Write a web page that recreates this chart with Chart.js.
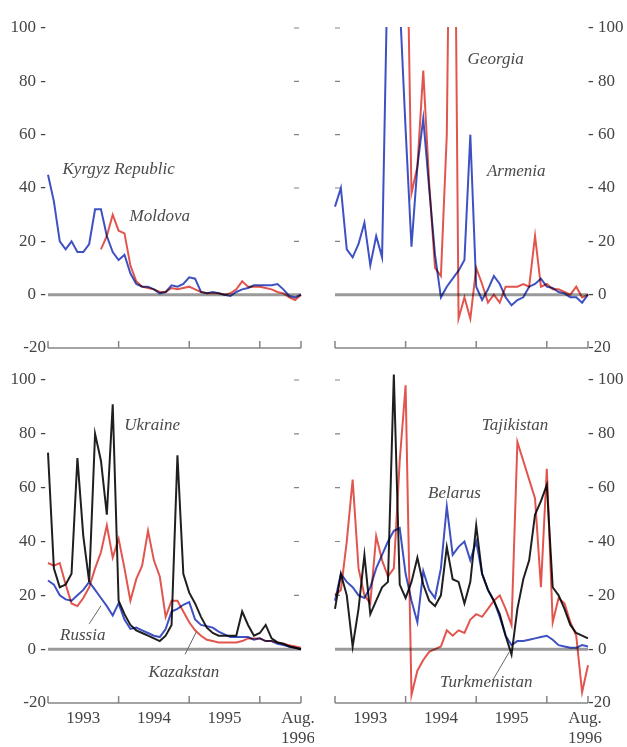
<!DOCTYPE html>
<html lang="en">
<head>
<meta charset="utf-8">
<title>Monthly inflation, 1993 - August 1996</title>
<script src="https://cdn.jsdelivr.net/npm/chart.js@4.4.1/dist/chart.umd.min.js"></script>
<style>
  html, body { margin: 0; padding: 0; background: #fff; }
  body { position: relative; width: 627px; height: 747px; overflow: hidden; }
  canvas { position: absolute; }
  #topLeft { left: 0; top: 0; }
  #topRight { left: 314px; top: 0; }
  #bottomLeft { left: 0; top: 365px; }
  #bottomRight { left: 314px; top: 365px; }
</style>
</head>
<body>
<canvas id="topLeft" width="314" height="365"></canvas>
<canvas id="topRight" width="313" height="365"></canvas>
<canvas id="bottomLeft" width="314" height="382"></canvas>
<canvas id="bottomRight" width="313" height="382"></canvas>
<script>
/* Monthly inflation in percent, one value per month:
 * index 0 = Jan. 1993 ... index 43 = Aug. 1996 */

/* Axis ticks and labels */
const yearBounds = [0, 12, 24, 36, 43];
const yearTickPos = [6, 18, 30, 42.5];
const yearTickLabels = ['1993', '1994', '1995', ['Aug.', '1996']];
const yTicks = [-20, 0, 20, 40, 60, 80, 100];

/* Top left */
const kyrgyz = [45, 35, 20, 17, 20, 16, 16, 19, 32, 32, 22, 16, 13, 15, 8, 4, 3, 3, 2, 0.5, 1, 3.5, 3, 4, 6.5, 6, 1, 0.5, 1, 0.5, 0, -0.5, 1, 2, 2.5, 3.5, 3.5, 3.5, 3.5, 4, 2, -0.5, -1, 0];
const moldova = [null, null, null, null, null, null, null, null, null, 17, 22, 30, 24, 23, 11, 5, 3, 2.5, 2, 1, 1, 2.5, 2, 2.5, 3, 2, 1, 0.5, 0.5, 0.5, 0, 0.5, 2, 5, 3, 3, 3, 2.5, 2, 1, 0.5, -1, -2, 0];

/* Top right (values above 100 run off the panel) */
const armenia = [33, 40, 17, 14, 19, 27, 11, 22, 14, 130, 250, 110, 62, 18, 48, 66, 40, 15, -1, 3, 6, 9, 13, 60, 3, -2, 2, 7, 4, -1, -4, -2, -1, 3, 4, 6, 3, 2.5, 1, 0.5, -1, -1, -3, 0];
const georgia = [null, null, null, null, null, null, null, null, null, null, null, null, 170, 38, 48, 84, 42, 10, 7, 60, 250, -9, -1, -9, 10, 4, -3, 0, -3, 3, 3, 3, 4, 3, 22, 3, 4, 2, 2, 1, 0, 3, -1, 0];

/* Bottom left */
const ukraine = [73, 30, 23, 24, 28, 71, 42, 25, 80, 70, 50, 91, 18, 13, 9, 7, 6, 5, 4, 3, 5, 9, 72, 28, 21, 17, 12, 8, 6, 5, 5, 5, 5, 14, 9, 5, 6, 9, 4, 2.5, 2, 1, 0.5, 0];
const russia = [25.5, 24, 20, 18.5, 18, 20, 22, 25, 22, 19, 16, 12.5, 17, 11, 7.5, 8, 7, 6, 5, 4.5, 7.5, 14, 15, 16.5, 17.5, 11, 9, 8.5, 8, 6.5, 5.5, 4.5, 4.5, 4.5, 4.5, 3.5, 4, 3, 3, 2, 1.5, 1, 0.5, 0];
const kazakstan = [32, 31, 32, 24, 17, 16, 19, 23, 30, 36, 46, 34, 41, 30, 18, 26, 31, 44, 33, 27, 12, 18, 18, 14, 10, 7, 5, 3.5, 3, 2.5, 2.5, 2.5, 2.5, 3, 4, 4, 4, 3, 3, 2.5, 2, 1.5, 1, 0.5];

/* Bottom right */
const tajikistan = [20, 22, 40, 63, 30, 20, 17, 42, 33, 27, 30, 70, 98, -17, -8, -4, -1, 0, 1, 7, 5, 7, 6, 11, 13, 12, 15, 18, 20, 15, 9, 77, 70, 63, 56, 23, 67, 10, 19, 17, 10, 5, -16, -6];
const belarus = [18, 28, 25, 23, 20, 19, 23, 30, 35, 40, 44, 45, 28, 18, 10, 29, 22, 19, 30, 53, 35, 38, 40, 33, 40, 28, 22, 18, 12, 5, 1.5, 3, 3, 3.5, 4, 4.5, 5, 3.5, 1.5, 1, 0.5, 0.5, 1.5, 1];
const turkmenistan = [15, 28, 20, 1, 15, 35, 13, 18, 23, 25, 102, 24, 19, 25, 34, 24, 18, 16, 20, 38, 26, 25, 17, 25, 46, 28, 22, 18, 13, 5, -2, 15, 26, 33, 50, 55, 61, 23, 20, 15, 9, 6, 5, 4];

const RED = '#e2554f';
const BLUE = '#3e51c3';
const BLACK = '#1f1f1f';

Chart.defaults.font.family = '"Liberation Serif", "Times New Roman", serif';
Chart.defaults.font.size = 17;
Chart.defaults.color = '#444';

/* Panel setup: series, country names (month, value) and pointer lines */
const panels = [
    {
        id: 'topLeft', side: 'left', yearLabels: false, top: 28, xHeight: 17,
        series: [
            { values: kyrgyz, color: BLUE },
            { values: moldova, color: RED }
        ],
        notes: [
            { text: 'Kyrgyz Republic', m: 12, v: 46.8 },
            { text: 'Moldova', m: 19, v: 29.2 }
        ],
        leaders: []
    },
    {
        id: 'topRight', side: 'right', yearLabels: false, top: 28, xHeight: 17,
        series: [
            { values: georgia, color: RED },
            { values: armenia, color: BLUE }
        ],
        notes: [
            { text: 'Georgia', m: 27.3, v: 88 },
            { text: 'Armenia', m: 30.8, v: 46 }
        ],
        leaders: []
    },
    {
        id: 'bottomLeft', side: 'left', yearLabels: true, top: 15, xHeight: 44,
        series: [
            { values: ukraine, color: BLACK },
            { values: russia, color: BLUE },
            { values: kazakstan, color: RED }
        ],
        notes: [
            { text: 'Ukraine', m: 17.7, v: 83 },
            { text: 'Russia', m: 5.9, v: 4.9 },
            { text: 'Kazakstan', m: 23.1, v: -8.6 }
        ],
        leaders: [
            { from: [7.0, 9.4], to: [9.0, 16.1] },
            { from: [23.3, -1.9], to: [25.2, 6.4] }
        ]
    },
    {
        id: 'bottomRight', side: 'right', yearLabels: true, top: 15, xHeight: 44,
        series: [
            { values: turkmenistan, color: BLACK, clip: { left: 2, right: 2, top: 10, bottom: 2 } },
            { values: belarus, color: BLUE },
            { values: tajikistan, color: RED }
        ],
        notes: [
            { text: 'Tajikistan', m: 30.6, v: 83 },
            { text: 'Belarus', m: 20.3, v: 57.7 },
            { text: 'Turkmenistan', m: 25.7, v: -12.4 }
        ],
        leaders: [
            { from: [26.9, -11.2], to: [29.6, -1.1] }
        ]
    }
];

/* Zero line, bottom axis with year marks, side dashes and country names */
const panelFrame = {
    id: 'panelFrame',
    beforeDatasetsDraw(chart, args, opts) {
        const { ctx, chartArea: a, scales: { x, y } } = chart;
        ctx.save();
        // zero line
        const zero = y.getPixelForValue(0);
        ctx.strokeStyle = '#9a9a9a';
        ctx.lineWidth = 3;
        ctx.beginPath();
        ctx.moveTo(a.left, zero);
        ctx.lineTo(a.right, zero);
        ctx.stroke();
        // bottom axis at -20, marks pointing up at year boundaries
        const base = y.getPixelForValue(-20);
        ctx.strokeStyle = '#858585';
        ctx.lineWidth = 1.5;
        ctx.beginPath();
        ctx.moveTo(a.left, base);
        ctx.lineTo(a.right, base);
        yearBounds.forEach(m => {
            const px = x.getPixelForValue(m);
            ctx.moveTo(px, base);
            ctx.lineTo(px, base - 7);
        });
        ctx.stroke();
        // small dashes on the side without labels
        ctx.lineWidth = 1.2;
        ctx.beginPath();
        [20, 40, 60, 80, 100].forEach(v => {
            const py = y.getPixelForValue(v);
            if (opts.side === 'left') {
                ctx.moveTo(a.right - 7, py);
                ctx.lineTo(a.right - 2, py);
            } else {
                ctx.moveTo(a.left, py);
                ctx.lineTo(a.left + 5, py);
            }
        });
        ctx.stroke();
        ctx.restore();
        // overlapping lines darken each other as in print
        ctx.globalCompositeOperation = 'multiply';
    },
    afterDatasetsDraw(chart, args, opts) {
        const { ctx, scales: { x, y } } = chart;
        ctx.globalCompositeOperation = 'source-over';
        ctx.save();
        ctx.font = 'italic 17px "Liberation Serif", "Times New Roman", serif';
        ctx.fillStyle = '#4a4a4a';
        ctx.textAlign = 'center';
        ctx.textBaseline = 'middle';
        opts.notes.forEach(n => {
            ctx.fillText(n.text, x.getPixelForValue(n.m), y.getPixelForValue(n.v));
        });
        ctx.strokeStyle = '#666';
        ctx.lineWidth = 1;
        ctx.beginPath();
        opts.leaders.forEach(l => {
            ctx.moveTo(x.getPixelForValue(l.from[0]), y.getPixelForValue(l.from[1]));
            ctx.lineTo(x.getPixelForValue(l.to[0]), y.getPixelForValue(l.to[1]));
        });
        ctx.stroke();
        ctx.restore();
    }
};

function makeChart(p) {
    const leftSide = p.side === 'left';
    return new Chart(document.getElementById(p.id), {
        type: 'line',
        data: {
            datasets: p.series.map(s => ({
                data: s.values.map((v, i) => ({ x: i, y: v })),
                borderColor: s.color,
                borderWidth: 2,
                pointRadius: 0,
                tension: 0,
                clip: s.clip || 1
            }))
        },
        options: {
            responsive: false,
            animation: false,
            events: [],
            layout: {
                padding: { top: p.top, bottom: 0, left: leftSide ? 0 : 21, right: leftSide ? 13 : 0 }
            },
            plugins: {
                legend: { display: false },
                tooltip: { enabled: false },
                panelFrame: { side: p.side, notes: p.notes, leaders: p.leaders }
            },
            scales: {
                x: {
                    type: 'linear',
                    min: 0,
                    max: 43,
                    grid: { display: false, drawTicks: false },
                    border: { display: false },
                    afterBuildTicks: s => { s.ticks = yearTickPos.map(v => ({ value: v })); },
                    afterFit: s => { s.height = p.xHeight; s.paddingLeft = 0; s.paddingRight = 0; },
                    ticks: {
                        display: p.yearLabels,
                        autoSkip: false,
                        maxRotation: 0,
                        padding: 5,
                        callback: v => yearTickLabels[yearTickPos.indexOf(v)]
                    }
                },
                y: {
                    position: p.side,
                    min: -20,
                    max: 100,
                    grid: { display: false, drawTicks: false },
                    border: { display: false },
                    afterBuildTicks: s => { s.ticks = yTicks.map(v => ({ value: v })); },
                    afterFit: s => { s.width = leftSide ? 48 : 39; s.paddingTop = 0; s.paddingBottom = 0; },
                    ticks: {
                        padding: leftSide ? 2 : 0,
                        callback: v => v === -20 ? '-20' : (leftSide ? v + ' -' : '- ' + v)
                    }
                }
            }
        },
        plugins: [panelFrame]
    });
}

panels.forEach(makeChart);
</script>
</body>
</html>
